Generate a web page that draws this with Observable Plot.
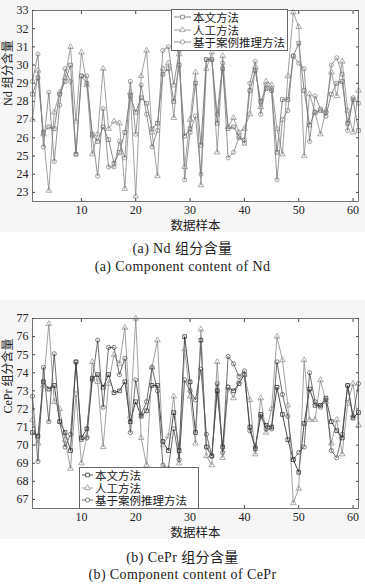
<!DOCTYPE html>
<html><head><meta charset="utf-8">
<script src="https://cdn.jsdelivr.net/npm/d3@7"></script>
<script src="https://cdn.jsdelivr.net/npm/@observablehq/plot@0.6"></script>
<style>
body{margin:0;background:#fff;}
#wrap{position:relative;width:365px;height:586px;overflow:hidden;font-family:"Liberation Serif","Noto Sans CJK SC",serif;}
.fig{position:absolute;left:0;background:#f6f6f6;}
.cap{position:absolute;left:0;width:365px;text-align:center;color:#222;font-size:14px;letter-spacing:0.4px;white-space:nowrap;}
.leg{position:absolute;background:#fff;border:1px solid #666;font-family:"Noto Sans CJK SC",sans-serif;color:#222;}
.row{display:flex;align-items:center;height:12.5px;}
.row svg{flex:none;}
</style></head>
<body><div id="wrap"></div>
<script>
const idx = d3.range(1, 62);
const seriesNames = ["本文方法", "人工方法", "基于案例推理方法"];
const xTicks = [10, 20, 30, 40, 50, 60];
const ndTicks = [23, 24, 25, 26, 27, 28, 29, 30, 31, 32, 33];
const ceTicks = [67, 68, 69, 70, 71, 72, 73, 74, 75, 76, 77];

const ndOurs = [28.4,29.3,26.3,26.6,26.5,28.4,29.1,30.0,25.1,29.4,29.0,26.2,25.8,26.6,25.9,24.6,25.2,26.3,28.3,27.4,28.2,27.9,26.5,26.8,29.5,29.8,28.0,30.0,26.1,26.5,29.0,25.6,30.3,30.3,26.8,29.8,26.5,26.6,26.1,25.7,28.6,29.7,28.0,28.7,28.6,25.2,28.1,28.1,30.5,31.2,28.6,26.7,27.4,27.5,27.2,28.4,29.0,29.1,26.8,28.1,26.4];
const ndManual = [27.0,29.7,26.2,23.1,27.4,28.5,29.3,31.0,26.9,30.7,28.9,25.1,26.2,29.8,26.5,26.9,26.8,23.2,28.5,22.8,29.4,30.8,26.3,23.9,29.8,30.1,27.1,30.6,24.4,27.0,29.6,23.4,29.8,30.7,25.2,30.5,26.6,27.1,26.3,26.5,27.3,29.9,27.7,29.1,28.9,26.5,25.1,29.4,32.9,32.1,25.0,28.4,27.4,26.2,27.5,29.6,28.3,30.2,27.5,26.3,28.6];
const ndCbr = [29.1,30.6,25.5,28.5,24.7,27.8,29.8,29.1,25.1,29.4,29.4,26.1,23.9,27.6,24.4,24.4,25.8,24.9,29.1,26.2,28.9,27.3,25.5,26.4,30.8,31.0,28.9,30.8,23.7,26.3,27.2,24.0,30.3,30.3,27.3,30.1,24.9,25.2,26.0,25.9,29.0,30.2,27.3,28.9,28.7,23.7,27.0,27.5,30.5,30.1,29.8,25.8,28.3,27.6,27.4,30.0,30.4,29.5,26.4,28.2,27.9];

const ceOurs = [70.7,70.5,73.5,73.1,73.3,71.3,70.7,69.7,74.6,70.4,70.9,73.7,73.9,73.2,73.9,72.9,73.0,73.5,71.3,72.4,71.6,71.9,73.3,73.3,70.2,69.7,71.8,69.7,76.0,73.5,70.7,75.8,69.9,69.4,73.0,69.9,73.2,73.0,73.4,73.9,71.0,69.8,71.7,71.1,71.0,73.2,71.7,70.3,69.2,68.5,71.2,73.1,72.2,72.2,72.6,71.3,70.8,70.4,73.3,71.5,71.8];
const ceManual = [71.4,70.1,73.3,76.7,72.4,72.0,70.3,68.7,72.8,69.0,70.5,74.6,73.5,69.9,73.4,75.0,74.5,76.5,71.6,77.0,70.4,68.9,74.3,75.8,70.0,70.5,72.7,69.0,75.3,72.7,70.1,76.4,69.4,68.9,74.6,69.3,73.2,72.6,73.5,73.9,72.5,69.5,72.6,70.7,72.0,76.0,74.7,72.2,66.8,67.6,74.7,71.4,71.4,73.6,72.4,70.1,71.4,69.5,72.3,73.4,71.1];
const ceCbr = [72.7,69.1,74.3,71.3,75.05,71.3,69.9,70.6,74.6,70.3,70.4,73.6,75.8,72.1,75.4,75.4,73.9,74.8,70.7,73.6,71.7,72.4,74.3,73.0,68.9,68.7,70.9,69.2,73.6,73.0,72.5,74.2,70.6,69.4,73.4,69.6,74.9,74.5,73.8,74.1,70.8,69.9,71.6,70.9,70.9,74.6,72.8,71.6,69.2,69.6,69.9,74.0,72.4,72.1,72.5,69.7,69.3,70.6,73.3,71.6,73.4];

const symbols = ["square", "triangle", "circle"];

function table(arrs) {
  const out = [];
  arrs.forEach((a, k) => a.forEach((v, i) => out.push({x: idx[i], y: v, s: seriesNames[k]})));
  return out;
}

function chart({arrs, colors, domain, ticks, ylabel, height, marginTop}) {
  const data = table(arrs);
  const marks = [
    Plot.frame({fill: "white", stroke: null}),
    Plot.axisX({ticks: xTicks, tickSize: -3, tickPadding: 7, stroke: "#444", fill: "#222", label: null}),
    Plot.axisX({anchor: "top", ticks: xTicks, tickSize: -3, tickFormat: () => "", stroke: "#444", label: null}),
    Plot.axisY({ticks, tickSize: -3, tickPadding: 7, stroke: "#444", fill: "#222", label: null}),
    Plot.axisY({anchor: "right", ticks, tickSize: -3, tickFormat: () => "", stroke: "#444", label: null})
  ];
  seriesNames.forEach((name, k) => {
    const d = data.filter(r => r.s === name);
    marks.push(Plot.line(d, {x: "x", y: "y", stroke: colors[k], strokeWidth: 0.8}));
  });
  seriesNames.forEach((name, k) => {
    const d = data.filter(r => r.s === name);
    marks.push(Plot.dot(d, {x: "x", y: "y", symbol: symbols[k], r: 2.1, stroke: colors[k], strokeWidth: 0.7, fill: "none"}));
  });
  marks.push(Plot.frame({stroke: "#555", strokeWidth: 0.8}));
  marks.push(Plot.text(["数据样本"], {frameAnchor: "bottom", lineAnchor: "middle", dy: 24, fontSize: 12.5, fill: "#222", fontFamily: "Noto Sans CJK SC"}));
  marks.push(Plot.text([ylabel], {frameAnchor: "left", dx: -24, rotate: -90, fontSize: 12, fill: "#222", fontFamily: "'Liberation Serif','Noto Sans CJK SC'"}));
  return Plot.plot({
    width: 365, height, marginLeft: 32, marginRight: 7, marginTop, marginBottom: 31,
    x: {domain: [1, 61], label: null}, y: {domain, label: null},
    style: {fontFamily: "Liberation Serif", fontSize: "12px", background: "transparent", overflow: "visible"},
    marks
  });
}

function legend(left, top, width, colors, swW) {
  const box = document.createElement("div");
  box.className = "leg";
  box.style.left = left + "px"; box.style.top = top + "px"; box.style.width = width + "px";
  box.style.padding = "1px 0";
  box.style.fontSize = "11.5px";
  seriesNames.forEach((name, k) => {
    const row = document.createElement("div");
    row.className = "row";
    const svg = d3.create("svg").attr("width", swW).attr("height", 10);
    svg.append("line").attr("x1", 2).attr("x2", swW - 2).attr("y1", 5).attr("y2", 5).attr("stroke", colors[k]).attr("stroke-width", 0.8);
    const sym = d3.symbol().type(k === 0 ? d3.symbolSquare : k === 1 ? d3.symbolTriangle : d3.symbolCircle).size(14);
    svg.append("path").attr("d", sym()).attr("transform", `translate(${swW / 2},5)`).attr("fill", "white").attr("stroke", colors[k]).attr("stroke-width", 0.7);
    row.appendChild(svg.node());
    const t = document.createElement("span");
    t.textContent = name;
    row.appendChild(t);
    box.appendChild(row);
  });
  return box;
}

const wrap = document.getElementById("wrap");
function place(node, top) {
  const d = document.createElement("div");
  d.className = "fig"; d.style.top = top + "px";
  d.appendChild(node);
  wrap.appendChild(d);
}
function cap(text, top) {
  const d = document.createElement("div");
  d.className = "cap"; d.style.top = top + "px"; d.textContent = text;
  wrap.appendChild(d);
}

const colA = ["#6a6a6a", "#8a8a8a", "#7a7a7a"];
const colB = ["#1e1e1e", "#8a8a8a", "#4a4a4a"];

place(chart({arrs: [ndOurs, ndManual, ndCbr], colors: colA, domain: [22.5, 33], ticks: ndTicks, ylabel: "Nd 组分含量", height: 232, marginTop: 10}), 0);
cap("(a) Nd 组分含量", 237);
cap("(a) Component content of Nd", 259);
place(chart({arrs: [ceOurs, ceManual, ceCbr], colors: colB, domain: [66.5, 77], ticks: ceTicks, ylabel: "CePr 组分含量", height: 239, marginTop: 18}), 300);
cap("(b) CePr 组分含量", 546);
cap("(b) Component content of CePr", 567);

wrap.appendChild(legend(171, 9, 115, colA, 21));
wrap.appendChild(legend(79, 467, 118, colB, 15));
</script></body></html>
